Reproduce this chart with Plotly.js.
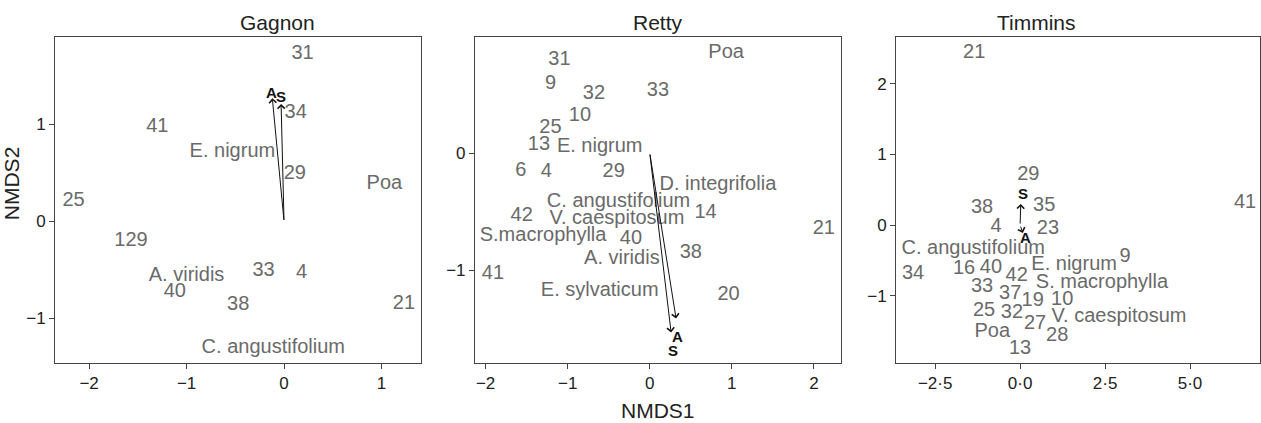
<!DOCTYPE html>
<html>
<head>
<meta charset="utf-8">
<script src="https://cdn.plot.ly/plotly-3.0.1.min.js"></script>
<style>html,body{margin:0;padding:0;background:#fff;}#chart{width:1261px;height:423px;}</style>
</head>
<body>
<div id="chart"></div>
<script>
// ---- Gagnon ----
const gagLabels = ["31","34","41","E. nigrum","29","Poa","25","129","A. viridis","33","4","40","38","21","C. angustifolium"];
const gagX = [0.19,0.12,-1.30,-0.53,0.11,1.03,-2.16,-1.57,-1.00,-0.21,0.18,-1.12,-0.47,1.23,-0.11];
const gagY = [1.72,1.12,0.97,0.71,0.49,0.39,0.21,-0.20,-0.56,-0.51,-0.53,-0.73,-0.86,-0.85,-1.31];
const gagVec = ["A","S"];
const gagVecX = [-0.12,-0.03];
const gagVecY = [1.27,1.21];
const gagVecLabX = [-0.13,-0.03];
const gagVecLabY = [1.33,1.29];

// ---- Retty ----
const retLabels = ["Poa","31","9","32","33","10","25","13","E. nigrum","6","4","29","D. integrifolia","C. angustifolium","14","42","V. caespitosum","21","S.macrophylla","40","38","A. viridis","41","E. sylvaticum","20"];
const retX = [0.93,-1.10,-1.21,-0.68,0.10,-0.85,-1.21,-1.35,-0.61,-1.57,-1.26,-0.44,0.83,-0.38,0.68,-1.56,-0.40,2.12,-1.30,-0.23,0.50,-0.34,-1.91,-0.61,0.96];
const retY = [0.85,0.79,0.59,0.50,0.53,0.32,0.21,0.07,0.05,-0.15,-0.16,-0.16,-0.27,-0.42,-0.51,-0.54,-0.56,-0.65,-0.71,-0.73,-0.85,-0.90,-1.03,-1.18,-1.21];
const retVec = ["A","S"];
const retVecX = [0.32,0.26];
const retVecY = [-1.41,-1.53];
const retVecLabX = [0.34,0.28];
const retVecLabY = [-1.56,-1.68];

// ---- Timmins ----
const timLabels = ["21","29","38","35","41","4","23","C. angustifolium","9","E. nigrum","34","16","40","42","S. macrophylla","33","37","19","10","25","32","V. caespitosum","27","Poa","28","13"];
const timX = [-1.35,0.24,-1.12,0.71,6.62,-0.71,0.82,-1.38,3.09,1.59,-3.15,-1.65,-0.86,-0.10,2.41,-1.12,-0.29,0.37,1.24,-1.06,-0.24,2.91,0.44,-0.82,1.09,0.00];
const timY = [2.43,0.71,0.24,0.27,0.31,-0.03,-0.06,-0.34,-0.45,-0.57,-0.69,-0.62,-0.61,-0.72,-0.82,-0.88,-0.98,-1.07,-1.06,-1.22,-1.24,-1.30,-1.40,-1.51,-1.57,-1.75];
const timVec = ["S","A"];
const timVecX = [0.02,0.08];
const timVecY = [0.30,-0.11];
const timVecLabX = [0.09,0.15];
const timVecLabY = [0.44,-0.17];

const timTickVals = [-2.5,0,2.5,5];
const timTickText = ["\u22122\u00b75","0\u00b70","2\u00b75","5\u00b70"];

const FONT = "Liberation Sans, Arial, sans-serif";
const LABCOL = "#6a6a6a";

function textTrace(lbl, xs, ys, xa, ya) {
  return {type:"scatter", mode:"text", x:xs, y:ys, text:lbl, xaxis:xa, yaxis:ya,
    textposition:"middle center", cliponaxis:false, hoverinfo:"skip",
    textfont:{family:FONT, size:20, color:LABCOL}, showlegend:false};
}

const data = [
  textTrace(gagLabels, gagX, gagY, "x", "y"),
  textTrace(retLabels, retX, retY, "x2", "y2"),
  textTrace(timLabels, timX, timY, "x3", "y3")
];

const annotations = [];
function addVectors(names, vx, vy, lx, ly, xa, ya) {
  for (let i = 0; i < names.length; i++) {
    annotations.push({x:vx[i], y:vy[i], ax:0, ay:0, xref:xa, yref:ya, axref:xa, ayref:ya,
      showarrow:true, arrowhead:4, arrowsize:1.4, arrowwidth:1, arrowcolor:"#111", text:""});
    annotations.push({x:lx[i], y:ly[i], xref:xa, yref:ya, text:"<b>"+names[i]+"</b>", showarrow:false,
      font:{family:FONT, size:15, color:"#111"}});
  }
}
addVectors(gagVec, gagVecX, gagVecY, gagVecLabX, gagVecLabY, "x", "y");
addVectors(retVec, retVecX, retVecY, retVecLabX, retVecLabY, "x2", "y2");
addVectors(timVec, timVecX, timVecY, timVecLabX, timVecLabY, "x3", "y3");

const titles = [["Gagnon", 0.1518], ["Retty", 0.5004], ["Timmins", 0.849]];
titles.forEach(t => annotations.push({text:t[0], xref:"paper", yref:"paper", x:t[1], y:1, yanchor:"bottom",
  yshift:1, showarrow:false, font:{family:FONT, size:21, color:"#222"}}));
annotations.push({text:"NMDS1", xref:"paper", yref:"paper", x:0.5004, y:0, yanchor:"top", yshift:-34,
  showarrow:false, font:{family:FONT, size:21, color:"#222"}});
annotations.push({text:"NMDS2", xref:"paper", yref:"paper", x:0, xanchor:"right", xshift:-30, y:0.55,
  textangle:-90, showarrow:false, font:{family:FONT, size:21, color:"#222"}});

const axBase = {showgrid:false, zeroline:false, showline:true, mirror:true, linecolor:"#444", linewidth:1,
  ticks:"outside", ticklen:5, tickcolor:"#444", tickfont:{family:FONT, size:17, color:"#222"}, fixedrange:true};

const layout = {
  width:1261, height:423, paper_bgcolor:"#fff", plot_bgcolor:"#fff",
  margin:{l:55, r:1, t:37, b:60},
  showlegend:false,
  xaxis: Object.assign({}, axBase, {domain:[0,0.3037], range:[-2.35,1.405], tickvals:[-2,-1,0,1], ticktext:["\u22122","\u22121","0","1"], anchor:"y"}),
  yaxis: Object.assign({}, axBase, {domain:[0,1], range:[-1.46,1.90], tickvals:[-1,0,1], ticktext:["\u22121","0","1"], anchor:"x"}),
  xaxis2: Object.assign({}, axBase, {domain:[0.3485,0.6523], range:[-2.13,2.33], tickvals:[-2,-1,0,1,2], ticktext:["\u22122","\u22121","0","1","2"], anchor:"y2"}),
  yaxis2: Object.assign({}, axBase, {domain:[0,1], range:[-1.79,0.99], tickvals:[-1,0], ticktext:["\u22121","0"], anchor:"x2"}),
  xaxis3: Object.assign({}, axBase, {domain:[0.698,1], range:[-3.65,7.06], tickvals:timTickVals, ticktext:timTickText, anchor:"y3"}),
  yaxis3: Object.assign({}, axBase, {domain:[0,1], range:[-1.95,2.66], tickvals:[-1,0,1,2], ticktext:["\u22121","0","1","2"], anchor:"x3"}),
  annotations: annotations
};

Plotly.newPlot("chart", data, layout, {displayModeBar:false, staticPlot:true});
</script>
</body>
</html>
